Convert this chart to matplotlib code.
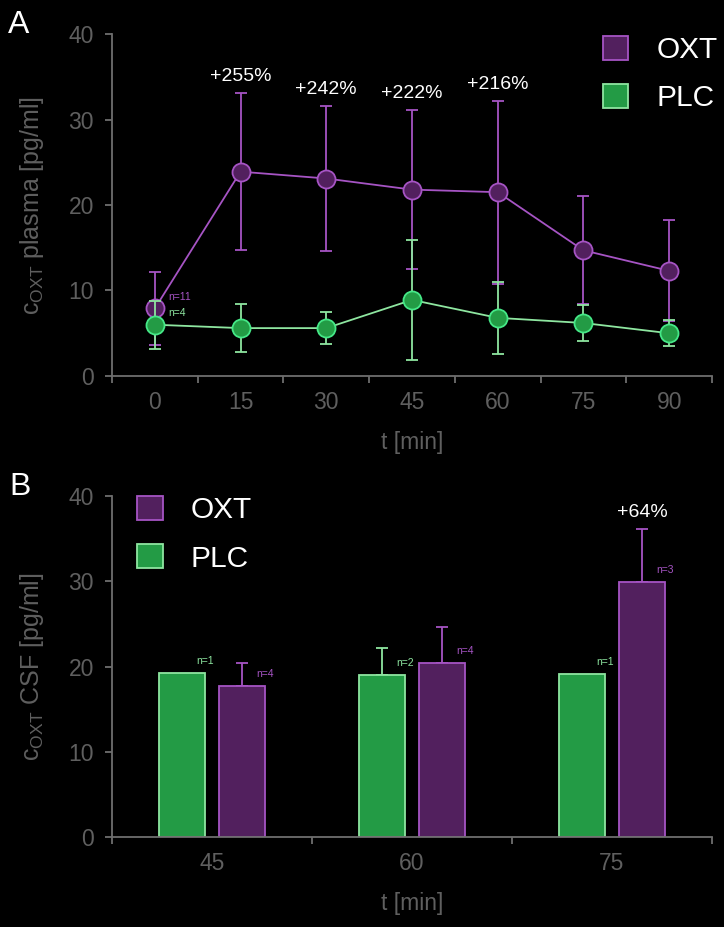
import numpy as np
import matplotlib.pyplot as plt
from matplotlib.patches import Patch

# panel A: plasma oxytocin over time (mean, SD)
time_points = [0, 15, 30, 45, 60, 75, 90]
oxt_plasma = [7.9, 23.9, 23.1, 21.8, 21.5, 14.7, 12.3]
oxt_plasma_sd = [4.3, 9.2, 8.5, 9.3, 10.7, 6.3, 5.9]
plc_plasma = [6.0, 5.6, 5.6, 8.9, 6.8, 6.2, 5.0]
plc_plasma_sd = [2.8, 2.8, 1.9, 7.0, 4.2, 2.1, 1.5]
plasma_increase = {15: '+255%', 30: '+242%', 45: '+222%', 60: '+216%'}
n_oxt_plasma = 11
n_plc_plasma = 4

# panel B: CSF oxytocin
csf_times = [45, 60, 75]
plc_csf = [19.2, 19.0, 19.1]
plc_csf_err = [0, 3.2, 0]
oxt_csf = [17.7, 20.4, 29.9]
oxt_csf_err = [2.7, 4.2, 6.2]
plc_csf_n = [1, 2, 1]
oxt_csf_n = [4, 4, 3]
csf_increase = {75: '+64%'}

plt.rcParams['font.family'] = ['Liberation Sans', 'DejaVu Sans']
plt.rcParams['mathtext.fontset'] = 'custom'
plt.rcParams['mathtext.rm'] = 'Liberation Sans'
plt.rcParams['mathtext.it'] = 'Liberation Sans:italic'

OXT_FILL = '#52205e'
OXT_EDGE = '#a654c4'
PLC_FILL = '#239b45'
PLC_EDGE = '#8ee6a0'
PLC_MARKER_EDGE = '#45e887'
AXIS = '#6e6e6e'
TICK = '#5f5f5f'


def style_axes(ax, labels):
    n = len(labels)
    ax.set_facecolor('black')
    for s in ['top', 'right']:
        ax.spines[s].set_visible(False)
    for s in ['left', 'bottom']:
        ax.spines[s].set_color(AXIS)
        ax.spines[s].set_linewidth(1.3)
    ax.set_xlim(-0.5, n - 0.5)
    ax.set_ylim(0, 40)
    ax.set_yticks([0, 10, 20, 30, 40])
    ax.set_xticks(range(n))
    ax.set_xticklabels([str(v) for v in labels])
    ax.set_xticks(np.arange(-0.5, n), minor=True)
    ax.tick_params(axis='x', which='major', length=0, pad=10.5, labelsize=16.5, labelcolor=TICK)
    ax.tick_params(axis='x', which='minor', length=5, width=1.3, color=AXIS)
    ax.tick_params(axis='y', length=5, width=1.3, color=AXIS, labelsize=16.5, labelcolor=TICK, pad=8)
    ax.set_xlabel('t [min]', fontsize=16.5, color=TICK)


def add_legend(ax, anchor):
    handles = [Patch(facecolor=OXT_FILL, edgecolor=OXT_EDGE, linewidth=1.3, label='OXT'),
               Patch(facecolor=PLC_FILL, edgecolor=PLC_EDGE, linewidth=1.3, label='PLC')]
    leg = ax.legend(handles=handles, loc='upper left', bbox_to_anchor=anchor, frameon=False,
                    fontsize=21.5, handlelength=0.85, handleheight=0.85, handletextpad=0.95,
                    labelspacing=0.67, borderpad=0, borderaxespad=0)
    for t in leg.get_texts():
        t.set_color('white')


fig = plt.figure(figsize=(7.24, 9.27), dpi=100, facecolor='black')

# ---- Panel A ----
axA = fig.add_axes([0.1547, 0.5944, 0.8287, 0.3689])
style_axes(axA, time_points)
x = np.arange(len(time_points))

axA.errorbar(x, plc_plasma, yerr=plc_plasma_sd, color=PLC_EDGE, lw=1.3, capsize=4.2,
             capthick=1.3, marker='o', ms=13, mfc=PLC_FILL, mec=PLC_MARKER_EDGE, mew=1.3, zorder=3)
axA.errorbar(x, oxt_plasma, yerr=oxt_plasma_sd, color=OXT_EDGE, lw=1.3, capsize=4.2,
             capthick=1.3, marker='o', ms=13, mfc=OXT_FILL, mec=OXT_EDGE, mew=1.3, zorder=2)

for i, t in enumerate(time_points):
    if t in plasma_increase:
        axA.annotate(plasma_increase[t], xy=(i, oxt_plasma[i] + oxt_plasma_sd[i]), xytext=(0, 12),
                     textcoords='offset points', ha='center', va='center', fontsize=14, color='white')

axA.annotate(f'n={n_oxt_plasma}', xy=(0, oxt_plasma[0]), xytext=(10, 8.6), textcoords='offset points',
             ha='left', va='center', fontsize=7.5, color=OXT_EDGE)
axA.annotate(f'n={n_plc_plasma}', xy=(0, plc_plasma[0]), xytext=(10, 8.6), textcoords='offset points',
             ha='left', va='center', fontsize=7.5, color=PLC_EDGE)

axA.set_ylabel(r'c$_{\mathrm{OXT}}$ plasma [pg/ml]', fontsize=18, color=TICK)
axA.yaxis.set_label_coords(-0.11, 0.5)
axA.xaxis.set_label_coords(0.5, -0.16)
add_legend(axA, (0.818, 0.995))

# ---- Panel B ----
axB = fig.add_axes([0.1547, 0.0971, 0.8287, 0.3678])
style_axes(axB, csf_times)
xb = np.arange(len(csf_times))
w = 0.23
off = 0.15

axB.bar(xb - off, plc_csf, width=w, color=PLC_FILL, edgecolor=PLC_EDGE, linewidth=1.3, zorder=2)
axB.bar(xb + off, oxt_csf, width=w, color=OXT_FILL, edgecolor=OXT_EDGE, linewidth=1.3, zorder=2)

plc_has = np.array(plc_csf_err) > 0
axB.errorbar((xb - off)[plc_has], np.array(plc_csf)[plc_has],
             yerr=[np.zeros(plc_has.sum()), np.array(plc_csf_err)[plc_has]],
             fmt='none', ecolor=PLC_EDGE, elinewidth=1.3, capsize=4.2, capthick=1.3, zorder=1)
axB.errorbar(xb + off, oxt_csf, yerr=[np.zeros(len(oxt_csf)), oxt_csf_err],
             fmt='none', ecolor=OXT_EDGE, elinewidth=1.3, capsize=4.2, capthick=1.3, zorder=1)

for i in range(len(csf_times)):
    axB.annotate(f'n={plc_csf_n[i]}', xy=(xb[i] - off + w / 2, plc_csf[i]), xytext=(0, 8.6),
                 textcoords='offset points', ha='center', va='center', fontsize=7.5, color=PLC_EDGE)
    axB.annotate(f'n={oxt_csf_n[i]}', xy=(xb[i] + off + w / 2, oxt_csf[i]), xytext=(0, 8.6),
                 textcoords='offset points', ha='center', va='center', fontsize=7.5, color=OXT_EDGE)
    if csf_times[i] in csf_increase:
        axB.annotate(csf_increase[csf_times[i]], xy=(xb[i] + off, oxt_csf[i] + oxt_csf_err[i]),
                     xytext=(0, 12), textcoords='offset points', ha='center', va='center',
                     fontsize=14, color='white')

axB.set_ylabel(r'c$_{\mathrm{OXT}}$ CSF [pg/ml]', fontsize=18, color=TICK)
axB.yaxis.set_label_coords(-0.11, 0.5)
axB.xaxis.set_label_coords(0.5, -0.16)
add_legend(axB, (0.042, 1.0))

fig.text(0.011, 0.964, 'A', fontsize=23, color='white', va='baseline')
fig.text(0.013, 0.466, 'B', fontsize=23, color='white', va='baseline')

fig.savefig('out.png', dpi=100, facecolor='black')
